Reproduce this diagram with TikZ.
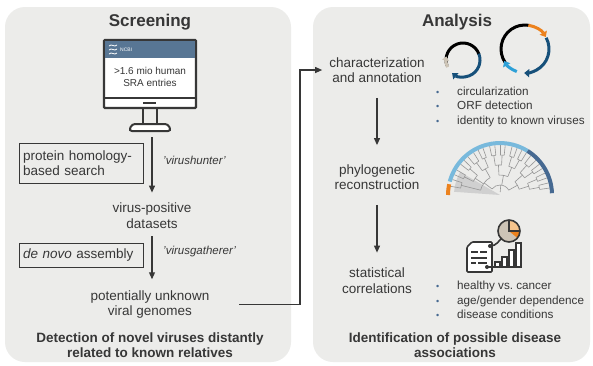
\documentclass[tikz,border=0pt]{standalone}
\usepackage{fontspec}
\setmainfont{Liberation Sans}
\usetikzlibrary{arrows.meta}

\definecolor{panel}{RGB}{236,236,234}
\definecolor{ink}{RGB}{55,55,55}
\definecolor{ncbi}{RGB}{88,118,148}
\definecolor{deepblue}{RGB}{22,80,122}
\definecolor{skyblue}{RGB}{45,160,215}
\definecolor{paleblue}{RGB}{120,185,220}
\definecolor{vorange}{RGB}{236,130,30}
\definecolor{lightorange}{RGB}{246,196,140}
\definecolor{beige}{RGB}{205,196,182}
\definecolor{dotblue}{RGB}{70,105,145}
\definecolor{branch}{RGB}{150,150,150}

\newcommand{\bul}{\makebox[21pt][l]{\textcolor{dotblue}{\fontsize{9}{9}\selectfont\textbullet}}}

\begin{document}
\begin{tikzpicture}
[
x=1pt, y=1pt,
every node/.style={text=ink, inner sep=0pt},
panelbox/.style={fill=panel, rounded corners=20pt},
title/.style={font=\fontsize{17}{20}\selectfont\bfseries},
txt/.style={font=\fontsize{13.5}{15.5}\selectfont, align=center},
summary/.style={font=\fontsize{13.5}{15}\selectfont\bfseries, align=center},
method/.style={draw=ink, line width=1pt, minimum width=124pt, text width=116pt,
  inner xsep=4pt, inner ysep=5pt, align=left, font=\fontsize{13.5}{15.5}\selectfont},
tool/.style={anchor=west, font=\fontsize{11.5}{13}\selectfont\itshape},
list/.style={anchor=west, align=left, font=\fontsize{11.7}{14.5}\selectfont},
arr/.style={draw=ink, line width=1.1pt, -{Triangle[length=7pt,width=6pt]}},
tree/.style={draw=branch, line width=0.6pt}
]
\fill[white] (0,0) rectangle (593,-365);
\useasboundingbox (0,0) rectangle (593,-365);

% the two panels
\fill[panelbox] (5,-7) rectangle (291,-362);
\fill[panelbox] (313,-7) rectangle (590,-362);

%%% Screening
\node[title] (screening) at (150,-22) {Screening};

% monitor
\draw[ink, line width=2.2pt, fill=white, rounded corners=1pt] (104,-40) rectangle (196,-108);
\fill[ncbi] (105.1,-41.1) rectangle (194.9,-58);
\draw[ink, line width=2pt] (104,-98) -- (196,-98);
\draw[ink, line width=2.5pt] (143,-103) -- (156,-103);
\draw[ink, line width=2pt] (143,-109) -- (143,-124) (157,-109) -- (157,-124);
\draw[ink, line width=2pt, fill=white, rounded corners=3pt] (129,-131) -- (132,-124) -- (168,-124) -- (171,-131) -- cycle;
\draw[white, line width=0.8pt] (109,-46) .. controls (112,-43) and (114,-48) .. (117,-45)
  (109,-50) .. controls (112,-47) and (114,-52) .. (117,-49)
  (109,-54) .. controls (112,-51) and (114,-56) .. (117,-53);
\node[text=white, font=\fontsize{5}{5}\selectfont, anchor=west] (ncbi) at (120,-50) {NCBI};
\node[txt, font=\fontsize{10}{11.5}\selectfont] (sra) at (150,-77) {>1.6 mio human\\SRA entries};
\coordinate (stand) at (152,-137);

\node[method, minimum height=40pt] (search) at (81,-163) {protein homology-\\based search};
\node[tool] (hunter) at (163,-160) {'virushunter'};
\node[txt] (positive) at (152,-215.5) {virus-positive\\datasets};

\node[method, minimum height=24pt] (assembly) at (81,-255) {\textit{de novo} assembly};
\node[tool] (gatherer) at (163,-252) {'virusgatherer'};
\node[txt] (genomes) at (150,-304.5) {potentially unknown\\viral genomes};

\node[summary] (detect) at (150,-345.5) {Detection of novel viruses distantly\\related to known relatives};

\draw[arr, shorten >=10pt] (stand) -- (stand |- positive.north);
\draw[arr, shorten <=8pt, shorten >=11pt] (positive.south -| stand) -- (genomes.north -| stand);

%%% Analysis
\node[title] (analysis) at (457,-22) {Analysis};

\node[txt] (annot) at (377,-70) {characterization\\and annotation};
\node[txt] (phylo) at (377,-177) {phylogenetic\\reconstruction};
\node[txt] (stats) at (377,-280.5) {statistical\\correlations};

\node[summary] (assoc) at (455,-345.5) {Identification of possible disease\\associations};

\draw[arr, shorten <=15pt, shorten >=19pt] (annot.south) -- (phylo.north);
\draw[arr, shorten <=15pt, shorten >=15pt] (phylo.south) -- (stats.north);

% link from the screening result to the analysis
\coordinate (turn) at (300,-304.5);
\draw[arr, shorten >=7pt] ([xshift=30pt]genomes.east) -- (turn) |- (annot.west);

% bullet lists
\node[list] (annotlist) at (436,-106.5) {\bul circularization\\\bul ORF detection\\\bul identity to known viruses};
\node[list] (statlist) at (436,-300) {\bul healthy vs.\ cancer\\\bul age/gender dependence\\\bul disease conditions};

% circular genomes
\begin{scope}[shift={(463,-60)}, line width=3pt]
  \draw[black] (20:17) arc[start angle=20, end angle=200, radius=17pt];
  \draw[deepblue, -{Triangle[length=5pt,width=8pt]}] (22:17) arc[start angle=22, end angle=-130, radius=17pt];
  \draw[beige, -{Triangle[length=4pt,width=7pt]}] (205:17) arc[start angle=205, end angle=168, radius=17pt];
\end{scope}
\begin{scope}[shift={(525,-49)}, line width=3pt]
  \draw[black] (80:24) arc[start angle=80, end angle=215, radius=24pt];
  \draw[vorange, -{Triangle[length=5pt,width=8pt]}] (82:24) arc[start angle=82, end angle=30, radius=24pt];
  \draw[deepblue, -{Triangle[length=5pt,width=8pt]}] (28:24) arc[start angle=28, end angle=-92, radius=24pt];
  \draw[skyblue, -{Triangle[length=5pt,width=8pt]}] (250:24) arc[start angle=250, end angle=210, radius=24pt];
\end{scope}

% phylogenetic tree
\begin{scope}[shift={(500,-195)}]
  \fill[branch!45] (0,0) -- (176:46) arc[start angle=176, end angle=150, radius=46pt] -- cycle;
  \foreach \a in {8,14,20,26,32,38,44,52,58,64,70,76,84,90,96,102,110,116,122,130,136,142,150,156,162,170}
    \draw[tree] (\a:40) -- (\a:50);
  \foreach \lo/\hi/\r/\p in {8/14/40/30, 20/26/40/30, 32/38/40/30, 44/52/40/30, 58/64/40/30,
      70/76/40/30, 84/90/40/30, 96/102/40/30, 110/116/40/30, 122/130/40/30, 136/142/40/30,
      150/156/40/30, 162/170/40/20, 11/23/30/20, 35/48/30/20, 61/73/30/20, 87/99/30/20,
      113/126/30/20, 139/153/30/20, 17/41.5/20/10, 67/93/20/10, 119.5/166/20/10, 29/142.75/10/3}
    \draw[tree] (\lo:\r) arc[start angle=\lo, end angle=\hi, radius=\r pt]
      ({(\lo+\hi)/2}:\r) -- ({(\lo+\hi)/2}:\p);
  \draw[paleblue, line width=4pt] (165:52) arc[start angle=165, end angle=58, radius=52pt];
  \draw[dotblue, line width=4pt] (58:52) arc[start angle=58, end angle=2, radius=52pt];
  \draw[vorange, line width=4pt] (180:52) arc[start angle=180, end angle=168, radius=52pt];
\end{scope}

% statistics icon
\begin{scope}[line width=1.6pt]
  \fill[beige] (509,-231) circle[radius=11pt];
  \fill[lightorange] (509,-231) -- (509,-220) arc[start angle=90, end angle=0, radius=11pt] -- cycle;
  \fill[vorange] (509,-231) -- (520,-231) arc[start angle=0, end angle=-40, radius=11pt] -- cycle;
  \draw[ink] (509,-231) circle[radius=11pt] (509,-220) -- (509,-231) -- (520,-231);
  \draw[ink, fill=white, rounded corners=1pt] (472,-242) -- (492,-242) -- (492,-272) -- (467,-272) -- (467,-247) -- cycle;
  \draw[ink, line width=1.2pt] (471,-252) -- (478,-252) (480,-252) -- (487,-252)
    (471,-258) -- (487,-258) (471,-263) -- (476,-263) (478,-263) -- (487,-263);
  \draw[ink] (490,-246) .. controls (497,-246) and (499,-240) .. (502,-238);
  \fill[ink] (490,-246) circle[radius=2pt] (487,-267) circle[radius=2pt];
  \draw[ink] (487,-267) -- (522,-267);
  \foreach \x/\h in {495/262, 502/257, 509/250, 516/243}
    \draw[ink, line width=1.3pt, fill=white] (\x,-267) rectangle (\x+5,-\h);
\end{scope}
\end{tikzpicture}
\end{document}
